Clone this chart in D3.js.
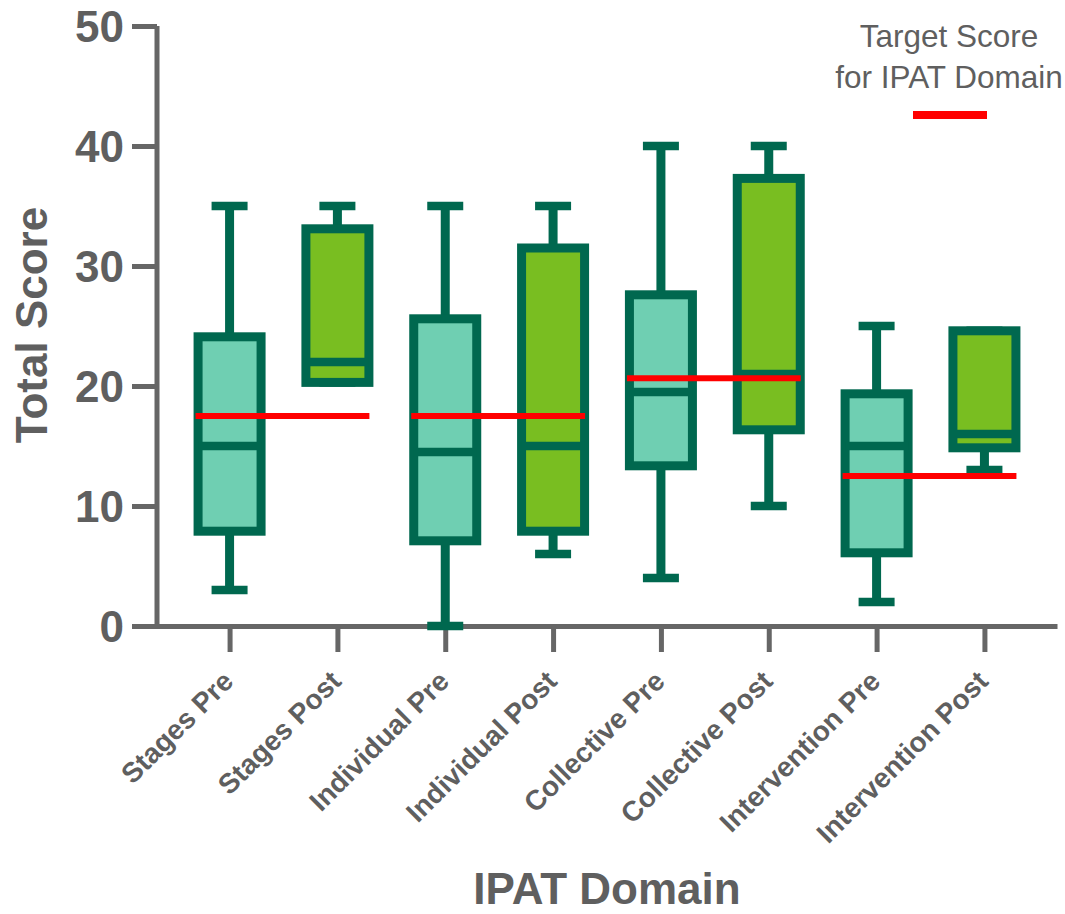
<!DOCTYPE html>
<html>
<head>
<meta charset="utf-8">
<script src="https://cdn.jsdelivr.net/npm/d3@7"></script>
<style>
  body { margin: 0; background: #fff; }
  svg { display: block; font-family: 'Liberation Sans', Arial, sans-serif; }
</style>
</head>
<body>
<div id="app"></div>
<script>
const categories = ['Stages Pre', 'Stages Post', 'Individual Pre', 'Individual Post', 'Collective Pre', 'Collective Post', 'Intervention Pre', 'Intervention Post']
const mins = [3, 20.3, 0, 6, 4, 10, 2, 13]
const q1s = [7.9, 20.3, 7.1, 7.9, 13.35, 16.35, 6.1, 14.85]
const medians = [15, 22, 14.5, 15, 19.5, 21, 15, 16]
const q3s = [24.1, 33.1, 25.6, 31.5, 27.6, 37.3, 19.35, 24.6]
const maxs = [35, 35, 35, 35, 40, 40, 25, 24.6]
const phase = ['pre', 'post', 'pre', 'post', 'pre', 'post', 'pre', 'post']
const targets = [
  { pre: 'Stages Pre', post: 'Stages Post', value: 17.5 },
  { pre: 'Individual Pre', post: 'Individual Post', value: 17.5 },
  { pre: 'Collective Pre', post: 'Collective Post', value: 20.65 },
  { pre: 'Intervention Pre', post: 'Intervention Post', value: 12.5 }
]
const yTicks = [0, 10, 20, 30, 40, 50]

const width = 1065, height = 914
const gray = '#666666', textGray = '#5f5f5f', dark = '#00684f'
const fills = { pre: '#6fcfb2', post: '#79be21' }

const svg = d3.select('#app').append('svg').attr('width', width).attr('height', height)

const x = d3.scalePoint().domain(categories).range([157, 1057]).padding(0.673)
const y = d3.scaleLinear().domain([0, 50]).range([626, 26])

const boxes = categories.map((c, i) => ({ c, min: mins[i], q1: q1s[i], med: medians[i], q3: q3s[i], max: maxs[i], phase: phase[i] }))

// axes
const yAxis = svg.append('g').attr('transform', 'translate(157,0)')
  .call(d3.axisLeft(y).tickValues(yTicks).tickSize(25).tickSizeOuter(0).tickPadding(8))
yAxis.select('.domain').attr('stroke', gray).attr('stroke-width', 5).attr('d', `M0,${y(0) + 3}V${y(50)}`)
yAxis.selectAll('.tick line').attr('stroke', gray).attr('stroke-width', 5)
yAxis.selectAll('.tick text').attr('fill', textGray).attr('font-size', 44).attr('font-weight', 'bold').attr('dy', '0.36em')

const xAxis = svg.append('g').attr('transform', `translate(0,${y(0)})`)
  .call(d3.axisBottom(x).tickSize(26).tickSizeOuter(0))
xAxis.select('.domain').attr('stroke', gray).attr('stroke-width', 5)
xAxis.selectAll('.tick line').attr('stroke', gray).attr('stroke-width', 5)
xAxis.selectAll('.tick text')
  .attr('x', 0).attr('y', 0).attr('dy', 0)
  .attr('text-anchor', 'end')
  .attr('transform', 'translate(5,57) rotate(-45)')
  .attr('fill', textGray).attr('font-size', 28).attr('font-weight', 'bold')

// boxes
const bw = 63, cap = 36
const g = svg.append('g').selectAll('g').data(boxes).enter().append('g')
  .attr('transform', d => `translate(${x(d.c)},0)`)
g.append('line').attr('y1', d => y(d.max)).attr('y2', d => y(d.min))
  .attr('stroke', dark).attr('stroke-width', 9)
g.append('line').attr('x1', -cap / 2).attr('x2', cap / 2).attr('y1', d => y(d.max)).attr('y2', d => y(d.max))
  .attr('stroke', dark).attr('stroke-width', 8.7)
g.append('line').attr('x1', -cap / 2).attr('x2', cap / 2).attr('y1', d => y(d.min)).attr('y2', d => y(d.min))
  .attr('stroke', dark).attr('stroke-width', 8.7)
g.append('rect').attr('x', -bw / 2).attr('width', bw)
  .attr('y', d => y(d.q3)).attr('height', d => y(d.q1) - y(d.q3))
  .attr('fill', d => fills[d.phase]).attr('stroke', dark).attr('stroke-width', 9)
g.append('line').attr('x1', -bw / 2).attr('x2', bw / 2).attr('y1', d => y(d.med)).attr('y2', d => y(d.med))
  .attr('stroke', dark).attr('stroke-width', 8.7)

// target lines
svg.append('g').selectAll('line').data(targets).enter().append('line')
  .attr('x1', d => x(d.pre) - 34).attr('x2', d => x(d.post) + 32)
  .attr('y1', d => y(d.value)).attr('y2', d => y(d.value))
  .attr('stroke', '#ff0000').attr('stroke-width', 6)

// titles
svg.append('text').attr('x', 607).attr('y', 904).attr('text-anchor', 'middle')
  .attr('font-size', 44).attr('font-weight', 'bold').attr('fill', textGray).text('IPAT Domain')
svg.append('text').attr('transform', 'translate(47,325) rotate(-90)').attr('text-anchor', 'middle')
  .attr('font-size', 44).attr('font-weight', 'bold').attr('fill', textGray).text('Total Score')

// legend
const legend = svg.append('g').attr('transform', 'translate(949,0)')
legend.append('text').attr('y', 47).attr('text-anchor', 'middle').attr('font-size', 31.5).attr('fill', textGray).text('Target Score')
legend.append('text').attr('y', 88).attr('text-anchor', 'middle').attr('font-size', 31.5).attr('fill', textGray).text('for IPAT Domain')
legend.append('line').attr('x1', -36).attr('x2', 38).attr('y1', 115).attr('y2', 115).attr('stroke', '#ff0000').attr('stroke-width', 8)
</script>
</body>
</html>
